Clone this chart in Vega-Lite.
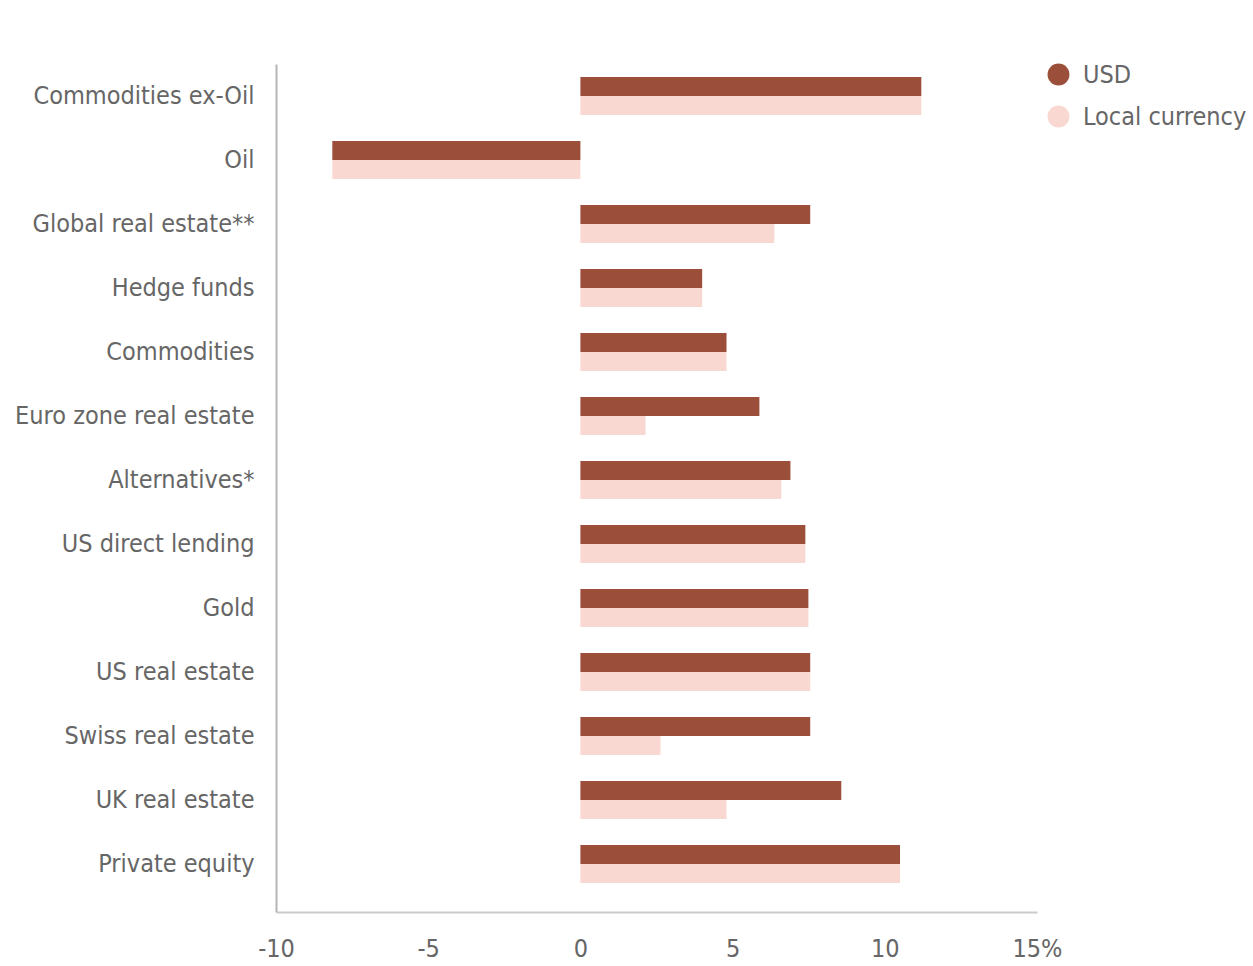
{
  "$schema": "https://vega.github.io/schema/vega-lite/v6.json",
  "autosize": "none",
  "padding": {"left": 276, "top": 64, "right": 216, "bottom": 54},
  "width": 761,
  "height": 848,
  "background": "white",
  "config": {
    "view": {"stroke": null},
    "font": "DejaVu Sans Condensed, Roboto, sans-serif"
  },
  "data": {
    "values": [
      {"asset": "Commodities ex-Oil", "series": "USD", "value": 11.2},
      {"asset": "Commodities ex-Oil", "series": "Local currency", "value": 11.2},
      {"asset": "Oil", "series": "USD", "value": -8.15},
      {"asset": "Oil", "series": "Local currency", "value": -8.15},
      {"asset": "Global real estate**", "series": "USD", "value": 7.55},
      {"asset": "Global real estate**", "series": "Local currency", "value": 6.37},
      {"asset": "Hedge funds", "series": "USD", "value": 4.0},
      {"asset": "Hedge funds", "series": "Local currency", "value": 4.0},
      {"asset": "Commodities", "series": "USD", "value": 4.8},
      {"asset": "Commodities", "series": "Local currency", "value": 4.8},
      {"asset": "Euro zone real estate", "series": "USD", "value": 5.88},
      {"asset": "Euro zone real estate", "series": "Local currency", "value": 2.14},
      {"asset": "Alternatives*", "series": "USD", "value": 6.9},
      {"asset": "Alternatives*", "series": "Local currency", "value": 6.6},
      {"asset": "US direct lending", "series": "USD", "value": 7.39},
      {"asset": "US direct lending", "series": "Local currency", "value": 7.39},
      {"asset": "Gold", "series": "USD", "value": 7.49},
      {"asset": "Gold", "series": "Local currency", "value": 7.49},
      {"asset": "US real estate", "series": "USD", "value": 7.55},
      {"asset": "US real estate", "series": "Local currency", "value": 7.55},
      {"asset": "Swiss real estate", "series": "USD", "value": 7.55},
      {"asset": "Swiss real estate", "series": "Local currency", "value": 2.63},
      {"asset": "UK real estate", "series": "USD", "value": 8.57},
      {"asset": "UK real estate", "series": "Local currency", "value": 4.8},
      {"asset": "Private equity", "series": "USD", "value": 10.5},
      {"asset": "Private equity", "series": "Local currency", "value": 10.5}
    ]
  },
  "mark": {"type": "bar"},
  "encoding": {
    "y": {
      "field": "asset",
      "type": "nominal",
      "sort": null,
      "scale": {"paddingInner": 0, "paddingOuter": 0.125, "align": 0},
      "axis": {
        "title": null,
        "ticks": false,
        "domainColor": "#b5b5b5",
        "domainWidth": 2,
        "labelFontSize": 25,
        "labelColor": "#666666",
        "labelPadding": 22,
        "labelLimit": 300
      }
    },
    "yOffset": {
      "field": "series",
      "type": "nominal",
      "sort": ["USD", "Local currency"],
      "scale": {"paddingInner": 0, "paddingOuter": 0.684}
    },
    "x": {
      "field": "value",
      "type": "quantitative",
      "scale": {"domain": [-10, 15], "nice": false, "zero": false},
      "axis": {
        "title": null,
        "values": [-10, -5, 0, 5, 10, 15],
        "grid": false,
        "ticks": false,
        "domainColor": "#cccccc",
        "domainWidth": 2,
        "labelFontSize": 25,
        "labelColor": "#666666",
        "labelPadding": 24,
        "labelDx": 3,
        "labelFlush": false,
        "labelExpr": "datum.value == 15 ? '15%' : '' + datum.value"
      }
    },
    "color": {
      "field": "series",
      "type": "nominal",
      "sort": ["USD", "Local currency"],
      "scale": {"domain": ["USD", "Local currency"], "range": ["#9b4f3a", "#f8d8d0"]},
      "legend": {
        "title": null,
        "orient": "none",
        "legendX": 770,
        "legendY": -2,
        "symbolType": "circle",
        "symbolSize": 480,
        "symbolStrokeWidth": 0,
        "labelFontSize": 25,
        "labelColor": "#666666",
        "labelOffset": 12,
        "labelLimit": 300,
        "rowPadding": 16
      }
    }
  }
}
